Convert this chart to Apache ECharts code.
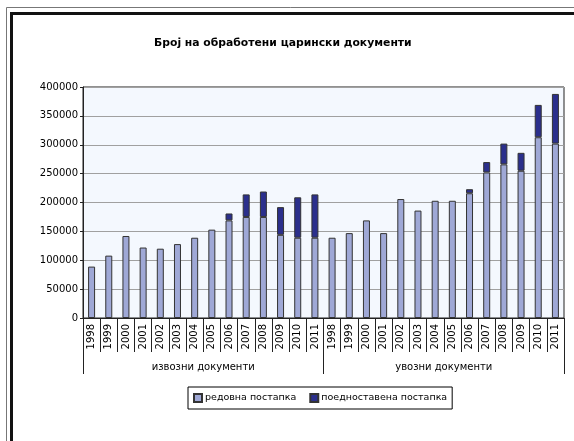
<!DOCTYPE html>
<html>
<head>
<meta charset="utf-8">
<script src="https://cdn.jsdelivr.net/npm/echarts@6/dist/echarts.min.js"></script>
<style>
html,body{margin:0;padding:0;background:#fff;}
#chart{width:574px;height:441px;}
</style>
</head>
<body>
<div id="chart"></div>
<script>
var years = ['1998','1999','2000','2001','2002','2003','2004','2005','2006','2007','2008','2009','2010','2011'];
var groups = ['извозни документи', 'увозни документи'];
var seriesNames = ['редовна постапка', 'поедноставена постапка'];
var exportRegular = [89000,108000,142000,122000,120000,128000,139000,153000,169000,175000,175000,144000,139000,139000];
var exportSimplified = [null,null,null,null,null,null,null,null,12000,39000,44000,48000,70000,75000];
var importRegular = [139000,147000,169000,147000,206000,186000,203000,203000,216000,252000,266000,255000,313000,302000];
var importSimplified = [null,null,null,null,null,null,null,null,7000,18000,36000,31000,56000,86000];
var yTicks = [0,50000,100000,150000,200000,250000,300000,350000,400000];

var categories = years.concat(years);
var regular = exportRegular.concat(importRegular);
var simplified = exportSimplified.concat(importSimplified);

var chart = echarts.init(document.getElementById('chart'), null, {renderer:'canvas'});
var font = 'DejaVu Sans';
chart.setOption({
  animation: false,
  backgroundColor: '#ffffff',
  textStyle: {fontFamily: font},
  title: {
    text: 'Број на обработени царински документи',
    left: 149, top: 33,
    textStyle: {fontFamily: font, fontSize: 10.8, fontWeight: 'bold', color: '#000'}
  },
  graphic: [
    {type:'rect', shape:{x:6.5, y:7.5, width:700, height:600}, style:{fill:'none', stroke:'#777', lineWidth:1}},
    {type:'rect', shape:{x:11.5, y:13.5, width:700, height:600}, style:{fill:'none', stroke:'#111', lineWidth:3}}
  ],
  legend: {
    data: seriesNames,
    left: 188, top: 387,
    itemWidth: 8, itemHeight: 8, itemGap: 13,
    padding: [6, 5],
    borderColor: '#000', borderWidth: 1,
    icon: 'rect',
    textStyle: {fontFamily: font, fontSize: 9.5, color: '#000', padding:[0,0,0,-2]}
  },
  grid: {
    left: 83, right: 10, top: 87, bottom: 123,
    show: true, backgroundColor: '#F4F8FE', borderColor: '#222', borderWidth: 1
  },
  xAxis: [
    {
      type: 'category', data: categories, position: 'bottom',
      axisLine: {show: true, lineStyle: {color: '#222', width: 1}},
      axisTick: {show: true, interval: 0, length: 34, lineStyle: {color: '#222'}},
      axisLabel: {interval: 0, rotate: 90, margin: 6, fontFamily: font, fontSize: 10, color: '#000'}
    },
    {
      type: 'category', data: groups, position: 'bottom', offset: 0,
      axisLine: {show: false},
      axisTick: {show: true, interval: 0, length: 56, lineStyle: {color: '#222'}},
      axisLabel: {interval: 0, margin: 44, fontFamily: font, fontSize: 10, color: '#000'}
    }
  ],
  yAxis: {
    type: 'value', min: yTicks[0], max: yTicks[yTicks.length-1], interval: 50000,
    axisLine: {show: true, lineStyle: {color: '#222'}},
    axisTick: {show: true, length: 3, lineStyle: {color: '#222'}},
    axisLabel: {margin: 5, fontFamily: font, fontSize: 10, color: '#000', formatter: function (v) { return String(v); }},
    splitLine: {show: true, lineStyle: {color: '#A0A0A0', width: 1}}
  },
  series: [
    {
      name: seriesNames[0], type: 'bar', stack: 'total', data: regular,
      barWidth: 7, xAxisIndex: 0,
      itemStyle: {color: '#9FA8D6', borderColor: '#333', borderWidth: 1}
    },
    {
      name: seriesNames[1], type: 'bar', stack: 'total', data: simplified,
      barWidth: 7, xAxisIndex: 0,
      itemStyle: {color: '#2B2F8C', borderColor: '#333', borderWidth: 1}
    }
  ]
});
</script>
</body>
</html>
